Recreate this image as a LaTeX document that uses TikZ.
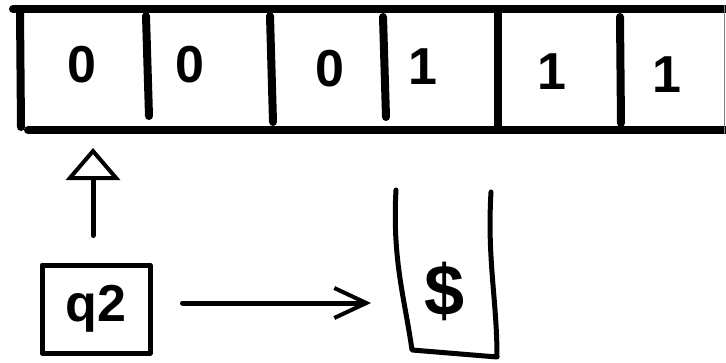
\documentclass[tikz,border=0pt]{standalone}
\usepackage{fontspec}
\setmainfont{Liberation Sans}
\usetikzlibrary{arrows.meta}
\begin{document}
\begin{tikzpicture}[x=1pt,y=-1pt, line cap=round, line join=round,
  tapeline/.style={line width=8pt},
  pen/.style={line width=5pt},
  sym/.style={font=\fontsize{52}{52}\selectfont\bfseries, inner sep=0pt},
]
\useasboundingbox (0,0) rectangle (726,362);
% tape
\draw[tapeline] (13,9) -- (730,9);
\draw[tapeline] (28,130) -- (730,130);
\draw[tapeline] (20,11) -- (21,127);
\draw[tapeline] (146,16) -- (149,116);
\draw[tapeline] (270,16) -- (273,122);
\draw[tapeline] (383,17) -- (386,117);
\draw[tapeline, line cap=butt] (498,9) -- (498,130);
\draw[tapeline] (620,17) -- (621,123);
\draw[gray, line width=1pt] (724,5) -- (724,134);
% cell symbols
\node[sym] (c1) at (82,65) {0};
\node[sym] (c2) at (190,65) {0};
\node[sym] (c3) at (330,69) {0};
\node[sym] (c4) at (423,67) {1};
\node[sym] (c5) at (552,72) {1};
\node[sym] (c6) at (667,75) {1};
% head
\node[sym, font=\fontsize{52}{52}\selectfont\bfseries, minimum width=108pt, minimum height=88pt, draw, pen] (q) at (96,309) {q2};
\draw[pen, -{Triangle[open, length=32pt, width=54pt, line width=4pt]}] (q.north -| 93,0) ++(0,-27) -- (93,148);
% stack
\node[sym, font=\fontsize{72}{72}\selectfont\bfseries] (st) at (445,291) {\$};
\draw[pen] (396,190) .. controls (392,260) and (405,300) .. (412,350) -- (497,357) .. controls (497,300) and (487,260) .. (491,192);
\coordinate (sttip) at (371,303);
\draw[pen, -{Straight Barb[length=32pt, width=30pt, line width=4pt]}] (q.east) ++(30,-6) -- (sttip);
\end{tikzpicture}
\end{document}
